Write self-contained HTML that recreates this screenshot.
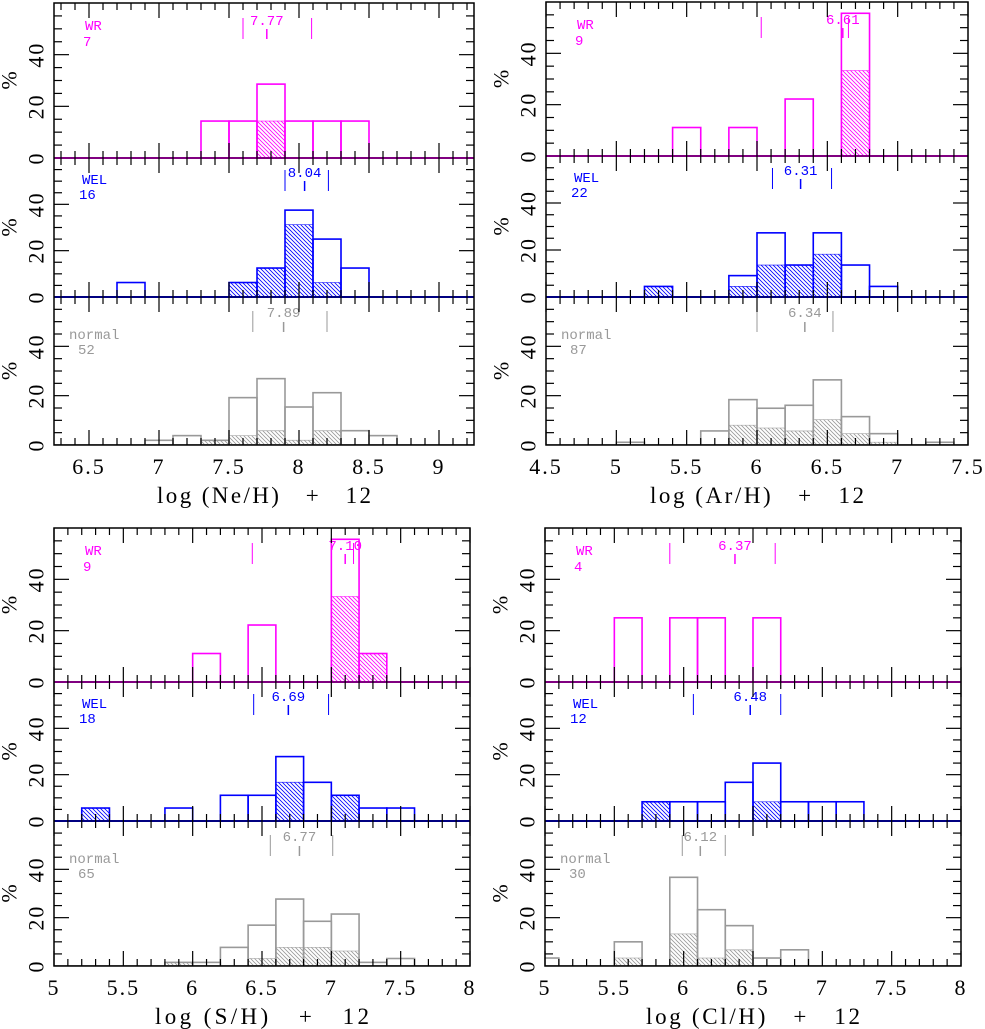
<!DOCTYPE html>
<html><head><meta charset="utf-8"><style>
html,body{margin:0;padding:0;background:#fff;}
svg{display:block;}
</style></head><body>
<svg id="chart" width="985" height="1029" viewBox="0 0 985 1029" xmlns="http://www.w3.org/2000/svg">
<defs>
<pattern id="h-wr" patternUnits="userSpaceOnUse" width="4" height="4"><path d="M0,0L4,4M-1,3L1,5M3,-1L5,1" stroke="#ff00ff" stroke-width="0.8"/></pattern>
<pattern id="h-wel" patternUnits="userSpaceOnUse" width="4" height="4"><path d="M0,0L4,4M-1,3L1,5M3,-1L5,1" stroke="#0000ff" stroke-width="0.8"/></pattern>
<pattern id="h-normal" patternUnits="userSpaceOnUse" width="4" height="4"><path d="M0,0L4,4M-1,3L1,5M3,-1L5,1" stroke="#999" stroke-width="0.8"/></pattern>
</defs>
</svg>
<script>
// ---- Ne ----
const neWrEdges=[7.3,7.5,7.7,7.9,8.1,8.3];
const neWrVals=[14.3,14.3,28.6,14.3,14.3,14.3];
const neWrHatch=[0,0,14.3,0,0,0];
const neWrStats=[7.60,7.77,8.09];
const neWelEdges=[6.7,7.5,7.7,7.9,8.1,8.3];
const neWelVals=[6.25,6.25,12.5,37.5,25,12.5];
const neWelHatch=[0,6.25,12.5,31.25,6.25,0];
const neWelStats=[7.90,8.04,8.21];
const neNorEdges=[6.9,7.1,7.3,7.5,7.7,7.9,8.1,8.3,8.5];
const neNorVals=[1.9,3.8,1.9,19.2,26.9,15.4,21.2,5.8,3.8];
const neNorHatch=[0,0,1.9,3.8,5.8,1.9,5.8,0,0];
const neNorStats=[7.67,7.89,8.20];
const neCounts=[7,16,52];
const neTicks=[6.5,7,7.5,8,8.5,9];
// ---- Ar ----
const arWrEdges=[5.4,5.8,6.2,6.6];
const arWrVals=[11.1,11.1,22.2,55.6];
const arWrHatch=[0,0,0,33.3];
const arWrStats=[6.03,6.61,6.65];
const arWelEdges=[5.2,5.8,6.0,6.2,6.4,6.6,6.8];
const arWelVals=[4.5,9.1,27.3,13.6,27.3,13.6,4.5];
const arWelHatch=[4.5,4.5,13.6,13.6,18.2,0,0];
const arWelStats=[6.11,6.31,6.53];
const arNorEdges=[5.0,5.6,5.8,6.0,6.2,6.4,6.6,6.8,7.2];
const arNorVals=[1.1,5.7,18.4,14.9,16.1,26.4,11.5,4.6,1.1];
const arNorHatch=[0,0,8.0,6.9,5.7,10.3,4.6,1.1,0];
const arNorStats=[6.00,6.34,6.54];
const arCounts=[9,22,87];
const arTicks=[4.5,5,5.5,6,6.5,7,7.5];
// ---- S ----
const sWrEdges=[6.0,6.4,7.0,7.2];
const sWrVals=[11.1,22.2,55.6,11.1];
const sWrHatch=[0,0,33.3,11.1];
const sWrStats=[6.43,7.10,7.16];
const sWelEdges=[5.2,5.8,6.2,6.4,6.6,6.8,7.0,7.2,7.4];
const sWelVals=[5.6,5.6,11.1,11.1,27.8,16.7,11.1,5.6,5.6];
const sWelHatch=[5.6,0,0,0,16.7,0,11.1,0,0];
const sWelStats=[6.44,6.69,6.98];
const sNorEdges=[5.8,6.0,6.2,6.4,6.6,6.8,7.0,7.2,7.4];
const sNorVals=[1.5,1.5,7.7,16.9,27.7,18.5,21.5,1.5,3.1];
const sNorHatch=[1.5,0,0,3.1,7.7,7.7,6.2,0,0];
const sNorStats=[6.56,6.77,7.01];
const sCounts=[9,18,65];
const sTicks=[5,5.5,6,6.5,7,7.5,8];
// ---- Cl ----
const clWrEdges=[5.5,5.9,6.1,6.5];
const clWrVals=[25,25,25,25];
const clWrHatch=[0,0,0,0];
const clWrStats=[5.90,6.37,6.66];
const clWelEdges=[5.7,5.9,6.1,6.3,6.5,6.7,6.9,7.1];
const clWelVals=[8.3,8.3,8.3,16.7,25,8.3,8.3,8.3];
const clWelHatch=[8.3,0,0,0,8.3,0,0,0];
const clWelStats=[6.07,6.48,6.70];
const clNorEdges=[4.9,5.5,5.9,6.1,6.3,6.5,6.7];
const clNorVals=[3.3,10,36.7,23.3,16.7,3.3,6.7];
const clNorHatch=[0,3.3,13.3,3.3,6.7,0,0];
const clNorStats=[5.99,6.12,6.30];
const clCounts=[4,12,30];
const clTicks=[5,5.5,6,6.5,7,7.5,8];

const NS='http://www.w3.org/2000/svg';
const svg=document.getElementById('chart');
const COLORS={wr:'#ff00ff',wel:'#0000ff',normal:'#999999'};
const NAMES={wr:'WR',wel:'WEL',normal:'normal'};
const YMAX=60, BINW=0.2;

function mk(tag,attrs,parent){const e=document.createElementNS(NS,tag);for(const k in attrs)e.setAttribute(k,attrs[k]);(parent||svg).appendChild(e);return e;}

function drawQuadrant(q){
  const g=mk('g',{});
  
  
  const xs=v=>q.x0+(v-q.dom[0])/(q.dom[1]-q.dom[0])*(q.x1-q.x0);
  const clipId='clip-'+q.key;
  const cp=mk('clipPath',{id:clipId},g);
  mk('rect',{x:q.x0,y:q.ys[0],width:q.x1-q.x0,height:q.ys[3]-q.ys[0]},cp);
  const types=['wr','wel','normal'];
  types.forEach((t,i)=>{
    const top=q.ys[i], bot=q.ys[i+1];
    const ys=v=>bot-v/YMAX*(bot-top);
    const s=q.series[i];
    const pg=mk('g',{'clip-path':'url(#'+clipId+')'},g);
    
    
    const bl=mk('line',{x1:q.x0,x2:q.x1,y1:bot,y2:bot,stroke:COLORS[t],'stroke-width':2},pg);
    
    
    s.edges.forEach((e,j)=>{
      const xa=xs(e), xb=xs(e+BINW);
      if(s.hatch[j]>0){
        const hr=mk('rect',{x:xa,y:ys(s.hatch[j]),width:xb-xa,height:bot-ys(s.hatch[j]),fill:'url(#h-'+t+')',stroke:'none'},pg);
        
        
        const hl=mk('line',{x1:xa,x2:xb,y1:ys(s.hatch[j]),y2:ys(s.hatch[j]),stroke:COLORS[t],'stroke-width':0.8,opacity:0.7},pg);
        
        
      }
      const r=mk('rect',{x:xa,y:ys(s.vals[j]),width:xb-xa,height:bot-ys(s.vals[j]),fill:'none',stroke:COLORS[t],'stroke-width':1.6},pg);
      
      
    });
    const so=[36,33,35][i], lb=[22,19,20][i];
    s.stats.forEach((v,k)=>{
      const len=k===1?10:21;
      const m=mk('line',{x1:xs(v),x2:xs(v),y1:top+so-len,y2:top+so,stroke:COLORS[t],'stroke-width':k===1?1.5:1},g);
      
      
    });
    const mt=mk('text',{x:xs(s.stats[1]),y:top+lb,'text-anchor':'middle',fill:COLORS[t],'font-family':'Liberation Mono, monospace','font-size':14},g);
    mt.textContent=s.stats[1].toFixed(2);
    
    
    const nb=[27,26,42][i], cb=[43,41,57][i];
    const nx=[31,28,15][i], cx=[29,25,24][i];
    const nt=mk('text',{x:q.x0+nx,y:top+nb,fill:COLORS[t],'font-family':'Liberation Mono, monospace','font-size':14},g);
    nt.textContent=NAMES[t];
    
    
    const ct=mk('text',{x:q.x0+cx,y:top+cb,fill:COLORS[t],'font-family':'Liberation Mono, monospace','font-size':14},g);
    ct.textContent=q.counts[i];
    
    
    for(let v=5;v<YMAX;v+=5){
      const L=v%20===0?15:8;
      mk('line',{x1:q.x0,x2:q.x0+L,y1:ys(v),y2:ys(v),stroke:'#000','stroke-width':1.2},g);
      mk('line',{x1:q.x1,x2:q.x1-L,y1:ys(v),y2:ys(v),stroke:'#000','stroke-width':1.2},g);
    }
    [0,20,40].forEach(v=>{
      const yl=mk('text',{x:q.x0-18,y:ys(v),'text-anchor':'middle','dominant-baseline':'central','font-family':'Liberation Serif, serif','font-size':22,'letter-spacing':2,transform:'rotate(-90 '+(q.x0-18)+' '+ys(v)+')'},g);
      yl.textContent=v;
      
      
    });
    const pc=mk('text',{x:q.x0-45,y:ys(30),'text-anchor':'middle','dominant-baseline':'central','font-family':'Liberation Serif, serif','font-size':22,transform:'rotate(-90 '+(q.x0-45)+' '+ys(30)+')'},g);
    pc.textContent='%';
    
    
    const start=Math.ceil(q.dom[0]*10-1e-6);
    for(let k=start;k<=q.dom[1]*10+1e-6;k++){
      const v=k/10, x=xs(v), L=(k%5===0)?15:7;
      mk('line',{x1:x,x2:x,y1:top,y2:top+L,stroke:'#000','stroke-width':1.2},g);
      mk('line',{x1:x,x2:x,y1:bot,y2:bot-L,stroke:'#000','stroke-width':1.2},g);
    }
    if(i>0) mk('line',{x1:q.x0,x2:q.x1,y1:top,y2:top,stroke:'#000','stroke-width':1},g);
  });
  const fr=mk('rect',{x:q.x0,y:q.ys[0],width:q.x1-q.x0,height:q.ys[3]-q.ys[0],fill:'none',stroke:'#000','stroke-width':1.5},g);
  
  
  q.ticks.forEach(v=>{
    const tl=mk('text',{x:xs(v),y:q.ys[3]+29,'text-anchor':'middle','font-family':'Liberation Serif, serif','font-size':22,'letter-spacing':2},g);
    tl.textContent=String(v);
    
    
  });
  const cx=(q.x0+q.x1)/2;
  const at=mk('text',{x:cx-107,y:q.ys[3]+58,'font-family':'Liberation Serif, serif','font-size':23,textLength:214,lengthAdjust:'spacing'},g);
  at.setAttribute('style','white-space:pre');
  at.textContent=q.title;
  
  
}

drawQuadrant({key:'ne',x0:54,x1:474,dom:[6.25,9.25],ys:[3,158,297,445],ticks:neTicks,counts:neCounts,title:'log (Ne/H)   +   12',
  series:[{edges:neWrEdges,vals:neWrVals,hatch:neWrHatch,stats:neWrStats},{edges:neWelEdges,vals:neWelVals,hatch:neWelHatch,stats:neWelStats},{edges:neNorEdges,vals:neNorVals,hatch:neNorHatch,stats:neNorStats}]});
drawQuadrant({key:'ar',x0:546,x1:968,dom:[4.5,7.5],ys:[2,156,297,445],ticks:arTicks,counts:arCounts,title:'log (Ar/H)   +   12',
  series:[{edges:arWrEdges,vals:arWrVals,hatch:arWrHatch,stats:arWrStats},{edges:arWelEdges,vals:arWelVals,hatch:arWelHatch,stats:arWelStats},{edges:arNorEdges,vals:arNorVals,hatch:arNorHatch,stats:arNorStats}]});
drawQuadrant({key:'s',x0:54,x1:470,dom:[5,8],ys:[528,682,821,966],ticks:sTicks,counts:sCounts,title:'log (S/H)   +   12',
  series:[{edges:sWrEdges,vals:sWrVals,hatch:sWrHatch,stats:sWrStats},{edges:sWelEdges,vals:sWelVals,hatch:sWelHatch,stats:sWelStats},{edges:sNorEdges,vals:sNorVals,hatch:sNorHatch,stats:sNorStats}]});
drawQuadrant({key:'cl',x0:545,x1:961,dom:[5,8],ys:[528,682,821,966],ticks:clTicks,counts:clCounts,title:'log (Cl/H)   +   12',
  series:[{edges:clWrEdges,vals:clWrVals,hatch:clWrHatch,stats:clWrStats},{edges:clWelEdges,vals:clWelVals,hatch:clWelHatch,stats:clWelStats},{edges:clNorEdges,vals:clNorVals,hatch:clNorHatch,stats:clNorStats}]});
</script>
</body></html>
